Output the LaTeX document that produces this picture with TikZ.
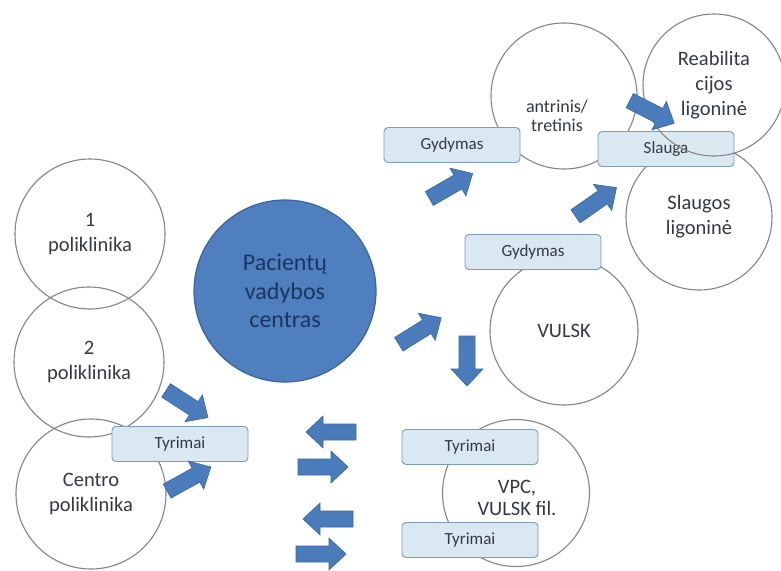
\documentclass[tikz,border=0pt]{standalone}
\usepackage{fontspec}
\setmainfont{Carlito}
\begin{document}
\begin{tikzpicture}[x=1pt,y=-1pt,
  ring/.style={circle, draw=ringgray, line width=1.1pt, inner sep=0pt,
    minimum size=#1, align=center, text=txtgray,
    font=\fontsize{20.5}{25}\selectfont},
  ring/.default=150pt,
  hub/.style={circle, draw=hubedge, fill=hubblue, line width=1.2pt,
    minimum size=182pt, align=center, text=hubtext,
    font=\fontsize{24}{28.5}\selectfont},
  tag/.style={rectangle, rounded corners=4pt, draw=tagedge, fill=tagfill,
    line width=0.9pt, minimum width=136pt, minimum height=35pt,
    text=txtgray, font=\fontsize{17}{19}\selectfont},
  blockarr/.pic={
    \filldraw[fill=arrblue, draw=arredge, line width=0.6pt]
      (-25,-8) -- (8,-8) -- (8,-16) -- (25,0) -- (8,16) -- (8,8)
      -- (-25,8) -- cycle;
  }
]
\definecolor{ringgray}{HTML}{858585}
\definecolor{txtgray}{HTML}{343944}
\definecolor{hubblue}{HTML}{4F7FBE}
\definecolor{hubedge}{HTML}{3A659C}
\definecolor{hubtext}{HTML}{1B3563}
\definecolor{tagfill}{HTML}{DAE8F2}
\definecolor{tagedge}{HTML}{7E9BB8}
\definecolor{arrblue}{HTML}{4A7CBB}
\definecolor{arredge}{HTML}{3A66A0}

\useasboundingbox[fill=white] (0,0) rectangle (781,570);

% left column of polyclinics
\node[ring] (p1) at (90,234) {1\\poliklinika};
\node[ring] (p2) at (89,362) {2\\poliklinika};
\node[ring] (pc) at (91,494) {Centro\\poliklinika};
\node[tag] (tl) at (180,444) {Tyrimai};

% patient management centre
\node[hub] (hub) at (285,291) {Pacientų\\vadybos\\centras};

% hospitals on the right
\node[ring=146pt] (ant) at (564,96) {};
\node[font=\fontsize{18}{19}\selectfont, text=txtgray, align=center] (antt) at (557,116) {antrinis/\\tretinis};
\node[ring=146pt] (sl) at (699,217) {Slaugos\\ligoninė};
\node[tag] (gt) at (452,145) {Gydymas};
\node[tag] (st) at (666,149) {Slauga};
\node[ring=142pt] (re) at (714,85) {Reabilita\\cijos\\ligoninė};

\node[ring=148pt] (vu) at (564,331) {VULSK};
\node[tag] (gm) at (533,252) {Gydymas};

\node[ring=147pt] (vpc) at (516,493) {};
\node[font=\fontsize{20.5}{21.5}\selectfont, text=txtgray, align=center] (vpct) at (517,498) {VPC,\\VULSK fil.};
\node[tag] (ta) at (470,447) {Tyrimai};
\node[tag] (tb) at (470,540) {Tyrimai};

% block arrows
\pic[rotate=-33] (a1) at (187,404) {blockarr};
\pic[rotate=29] (a2) at (189,479) {blockarr};
\pic[rotate=32] (a3) at (420,331) {blockarr};
\pic[rotate=-90] (a4) at (467,361) {blockarr};
\pic[rotate=30] (a5) at (451,186) {blockarr};
\pic[rotate=35] (a6) at (596,202) {blockarr};
\pic[rotate=-27] (a7) at (652,112) {blockarr};
\pic[rotate=180] (a8) at (331,432) {blockarr};
\pic (a9) at (323,467) {blockarr};
\pic[rotate=180] (a10) at (328,519) {blockarr};
\pic (a11) at (321,554) {blockarr};
\end{tikzpicture}
\end{document}
